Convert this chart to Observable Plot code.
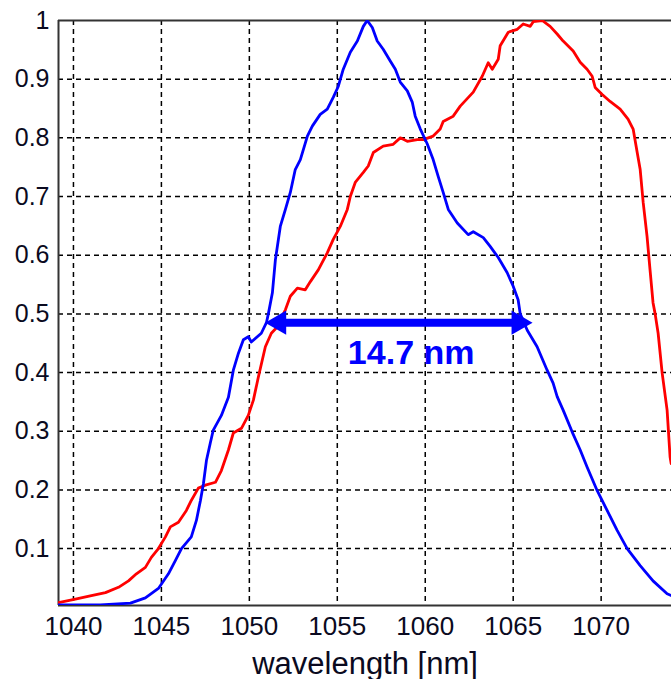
<!DOCTYPE html>
<html><head><meta charset="utf-8">
<script src="https://cdn.jsdelivr.net/npm/d3@7"></script>
<script src="https://cdn.jsdelivr.net/npm/@observablehq/plot@0.6"></script>
<style>html,body{margin:0;padding:0;background:#fff} svg{display:block}</style>
</head><body><div id="chart"></div>
<script>
// Blue spectrum (narrow)
const blueWl = [1039.15,1041.53,1043.24,1044.09,1044.83,1045.40,1045.80,1046.14,1046.70,1046.99,1047.22,1047.39,1047.56,1047.78,1047.95,1048.41,1048.81,1049.09,1049.38,1049.66,1049.94,1050.11,1050.68,1050.97,1051.08,1051.31,1051.48,1051.76,1052.05,1052.33,1052.61,1052.90,1053.30,1053.58,1054.03,1054.43,1054.77,1055.06,1055.34,1055.74,1056.14,1056.48,1056.70,1056.99,1057.27,1057.61,1058.01,1058.30,1058.58,1058.98,1059.26,1059.43,1059.72,1060.11,1060.45,1060.74,1061.02,1061.31,1061.82,1062.44,1062.73,1063.30,1063.69,1064.15,1064.66,1065.00,1065.28,1065.40,1065.80,1066.36,1066.93,1067.27,1067.50,1067.84,1068.35,1068.81,1069.20,1069.77,1070.34,1070.91,1071.48,1072.22,1072.95,1073.75,1073.98];
const blueVal = [0.004,0.004,0.007,0.016,0.032,0.057,0.08,0.10,0.12,0.148,0.182,0.211,0.25,0.28,0.302,0.327,0.358,0.404,0.433,0.456,0.461,0.452,0.467,0.485,0.50,0.536,0.592,0.649,0.678,0.707,0.746,0.763,0.803,0.82,0.84,0.849,0.869,0.888,0.917,0.946,0.965,0.99,1.0,0.988,0.965,0.951,0.931,0.917,0.895,0.88,0.861,0.837,0.815,0.79,0.763,0.734,0.707,0.678,0.655,0.635,0.64,0.63,0.615,0.596,0.57,0.547,0.524,0.50,0.472,0.444,0.404,0.382,0.359,0.336,0.299,0.268,0.239,0.199,0.165,0.131,0.10,0.071,0.045,0.023,0.02];
// Red spectrum (broad)
const redWl = [1039.15,1040.11,1041.02,1041.82,1042.56,1043.13,1043.58,1044.09,1044.43,1044.83,1045.23,1045.51,1045.97,1046.42,1046.70,1047.10,1047.50,1048.07,1048.41,1048.81,1049.09,1049.55,1049.94,1050.23,1050.51,1050.91,1051.25,1051.53,1052.05,1052.33,1052.73,1053.18,1053.47,1053.92,1054.43,1054.77,1055.17,1055.57,1055.74,1056.02,1056.48,1056.76,1057.05,1057.61,1058.18,1058.58,1058.98,1059.55,1059.89,1060.45,1060.85,1061.02,1061.59,1061.99,1062.73,1063.24,1063.58,1063.81,1064.15,1064.26,1064.72,1065.23,1065.57,1065.97,1066.14,1066.65,1067.10,1067.50,1067.84,1068.41,1068.81,1069.20,1069.49,1069.66,1070.06,1070.51,1071.08,1071.53,1071.82,1072.05,1072.22,1072.39,1072.61,1072.78,1072.95,1073.07,1073.24,1073.47,1073.75,1073.92,1073.98];
const redVal = [0.008,0.014,0.02,0.025,0.034,0.045,0.057,0.068,0.085,0.10,0.12,0.137,0.145,0.165,0.182,0.203,0.208,0.213,0.233,0.268,0.297,0.305,0.327,0.353,0.392,0.444,0.467,0.476,0.507,0.53,0.544,0.541,0.555,0.575,0.604,0.627,0.649,0.678,0.70,0.724,0.741,0.752,0.775,0.786,0.789,0.80,0.794,0.797,0.797,0.803,0.815,0.828,0.837,0.854,0.878,0.905,0.928,0.917,0.934,0.957,0.98,0.985,0.994,0.99,0.998,1.0,0.99,0.977,0.965,0.948,0.929,0.917,0.905,0.886,0.874,0.862,0.849,0.832,0.815,0.775,0.746,0.69,0.632,0.575,0.519,0.50,0.467,0.399,0.336,0.256,0.245];

const xTicks = [1040,1045,1050,1055,1060,1065,1070];
const yTicks = [0.1,0.2,0.3,0.4,0.5,0.6,0.7,0.8,0.9,1];
const yTickLabels = ["0.1","0.2","0.3","0.4","0.5","0.6","0.7","0.8","0.9","1"];
const xLabel = "wavelength [nm]";
// FWHM annotation
const fwhmLeft = 1050.9, fwhmRight = 1066.1, fwhmLevel = 0.485;
const fwhmText = "14.7 nm", fwhmTextX = 1059.2, fwhmTextY = 0.433;

const xDomain = [1039.15, 1074.0];
const yDomain = [0.003, 1];

const blue = blueWl.map((w, i) => ({w, v: blueVal[i]}));
const red = redWl.map((w, i) => ({w, v: redVal[i]}));
const fwhm = [{x1: fwhmLeft, x2: fwhmRight, y: fwhmLevel, tx: fwhmTextX, ty: fwhmTextY, t: fwhmText}];

const BLUE = "#0000ff", RED = "#ff0000";
const gridStyle = {stroke: "#000", strokeWidth: 1.5, strokeDasharray: "5,4", strokeOpacity: 1};

const chart = Plot.plot({
  width: 671, height: 679,
  marginLeft: 58, marginRight: 0, marginTop: 20, marginBottom: 74,
  style: {fontFamily: "Arial, 'Liberation Sans', sans-serif", background: "#fff", color: "#0a0a20", overflow: "visible"},
  x: {domain: xDomain},
  y: {domain: yDomain},
  marks: [
    Plot.ruleX(xTicks, gridStyle),
    Plot.ruleY(yTicks.filter(d => d < 1), gridStyle),
    Plot.ruleX([xDomain[0]], {stroke: "#333", strokeWidth: 2}),
    Plot.ruleY([yDomain[0], yDomain[1]], {stroke: "#333", strokeWidth: 2}),
    Plot.axisX({ticks: xTicks, tickSize: 0, tickPadding: 11, fontSize: 26, tickFormat: d => String(d), label: null}),
    Plot.axisY({ticks: yTicks, tickSize: 0, tickPadding: 9, fontSize: 25, tickFormat: d => yTickLabels[yTicks.indexOf(d)], label: null}),
    Plot.text([xLabel], {frameAnchor: "bottom", text: d => d, lineAnchor: "bottom", dy: 68, fontSize: 31, fill: "#0a0a20"}),
    Plot.line(red, {x: "w", y: "v", stroke: RED, strokeWidth: 2.8, clip: true}),
    Plot.line(blue, {x: "w", y: "v", stroke: BLUE, strokeWidth: 2.8, clip: true}),
    Plot.ruleY(fwhm, {y: "y", x1: "x1", x2: "x2", insetLeft: 14, insetRight: 14, stroke: BLUE, strokeWidth: 8}),
    Plot.dot(fwhm, {x: "x1", y: "y", symbol: "triangle", rotate: -90, r: 9, fill: BLUE, stroke: "none", dx: 14}),
    Plot.dot(fwhm, {x: "x2", y: "y", symbol: "triangle", rotate: 90, r: 9, fill: BLUE, stroke: "none", dx: -14}),
    Plot.text(fwhm, {x: "tx", y: "ty", text: "t", fontSize: 34, fontWeight: "bold", fill: BLUE})
  ]
});
document.getElementById("chart").appendChild(chart);
</script>
</body></html>
